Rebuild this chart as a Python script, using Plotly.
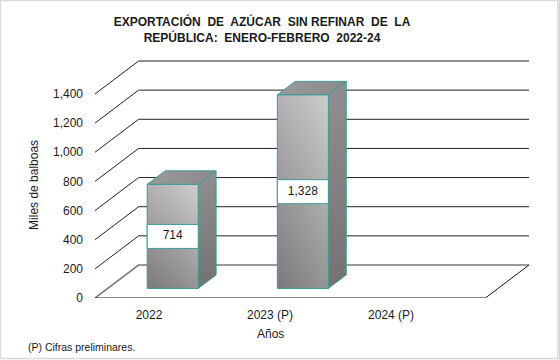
import plotly.graph_objects as go

# ---------------- data ----------------
categories = ["2022", "2023 (P)", "2024 (P)"]
values = [714, 1328, None]
value_labels = ["714", "1,328", ""]
y_tickvals = [0, 200, 400, 600, 800, 1000, 1200, 1400]
y_ticktext = ["0", "200", "400", "600", "800", "1,000", "1,200", "1,400"]

title_text = ("EXPORTACIÓN  DE  AZÚCAR  SIN REFINAR  DE  LA<br>"
              "REPÚBLICA:  ENERO-FEBRERO  2022-24")
y_title = "Miles de balboas"
x_title = "Años"
footnote = "(P) Cifras preliminares."

# ---------------- geometry / style ----------------
W, H = 559, 360
ML, MB, MT = 95, 62, 60
CAT_PX = 130.0                 # pixels per category on the front plane
Y_MAX_TICK = 1400
Y_PX = 204.0                   # pixels for 0..1400 on front plane
UPP = Y_MAX_TICK / Y_PX        # value units per pixel
DX = 0.335                     # depth offset in category units
DY = 33 * UPP                  # depth offset in value units
PLOT_H = H - MB - MT
Y_TOP = PLOT_H * UPP
X_LO = -0.5
X_HI = len(categories) - 0.5 + DX
PLOT_W = (X_HI - X_LO) * CAT_PX
MR = W - ML - PLOT_W

HW = 0.196                     # bar half width (category units)
F0, F1 = 0.29, 0.70            # bar depth range (fraction of depth)
TEAL = "#3a9a9a"
FONT = "Arial, Liberation Sans, sans-serif"
TXT = "#1a1a1a"

fig = go.Figure()

# back wall gridlines: diagonal on the left side + horizontal on the back wall
for v in y_tickvals:
    color = "#7a7a7a" if v == 0 else "#222222"
    width = 1.6 if v == 0 else 1
    fig.add_trace(go.Scatter(
        x=[X_LO, X_LO + DX, X_HI], y=[v, v + DY, v + DY],
        mode="lines", line=dict(color=color, width=width),
        hoverinfo="skip", showlegend=False))

# floor front edge and right diagonal
fig.add_trace(go.Scatter(
    x=[X_LO, len(categories) - 0.5, X_HI], y=[0, 0, DY],
    mode="lines", line=dict(color="#111111", width=1),
    hoverinfo="skip", showlegend=False))

# 3D bars
bdx = (F1 - F0) * DX
bdy = (F1 - F0) * DY
for i, v in enumerate(values):
    if v is None:
        continue
    cx = i + F0 * DX
    y0 = F0 * DY
    y1 = v + F0 * DY
    xl, xr = cx - HW, cx + HW
    # side face
    fig.add_trace(go.Scatter(
        x=[xr, xr + bdx, xr + bdx, xr, xr], y=[y0, y0 + bdy, y1 + bdy, y1, y0],
        fill="toself", mode="lines", line=dict(color=TEAL, width=1),
        fillgradient=dict(type="vertical",
                          colorscale=[[0, "#737373"], [1, "#8f8f8f"]]),
        hoverinfo="skip", showlegend=False))
    # top face
    fig.add_trace(go.Scatter(
        x=[xl, xr, xr + bdx, xl + bdx, xl], y=[y1, y1, y1 + bdy, y1 + bdy, y1],
        fill="toself", mode="lines", line=dict(color=TEAL, width=1),
        fillgradient=dict(type="horizontal",
                          colorscale=[[0, "#9a9a9a"], [1, "#8a8a8a"]]),
        hoverinfo="skip", showlegend=False))
    # front face: vertical gradient
    fig.add_trace(go.Scatter(
        x=[xl, xr, xr, xl, xl], y=[y0, y0, y1, y1, y0],
        fill="toself", mode="lines", line=dict(color="rgba(0,0,0,0)", width=0),
        fillgradient=dict(type="vertical",
                          colorscale=[[0, "#888888"], [1, "#c9c6c6"]]),
        hoverinfo="skip", showlegend=False))
    # front face: horizontal shading overlay (makes the gradient diagonal)
    fig.add_trace(go.Scatter(
        x=[xl, xr, xr, xl, xl], y=[y0, y0, y1, y1, y0],
        fill="toself", mode="lines", line=dict(color=TEAL, width=1),
        fillgradient=dict(type="horizontal",
                          colorscale=[[0, "rgba(0,0,0,0.10)"],
                                      [1, "rgba(255,255,255,0.12)"]]),
        hoverinfo="skip", showlegend=False))
    # value label box
    lc = v / 2 + F0 * DY
    hh = 12 * UPP
    fig.add_trace(go.Scatter(
        x=[xl, xr, xr, xl, xl], y=[lc - hh, lc - hh, lc + hh, lc + hh, lc - hh],
        fill="toself", fillcolor="white", mode="lines",
        line=dict(color=TEAL, width=1),
        hoverinfo="skip", showlegend=False))
    fig.add_trace(go.Scatter(
        x=[cx], y=[lc], mode="text", text=[value_labels[i]],
        textposition="middle center",
        textfont=dict(family=FONT, size=12, color=TXT),
        hoverinfo="skip", showlegend=False))

# category tick positions (Excel places labels slightly left of bar centres)
x_tickvals = [i * 0.93 - 0.085 for i in range(len(categories))]

fig.update_layout(
    width=W, height=H, autosize=False,
    margin=dict(l=ML, r=MR, t=MT, b=MB, pad=0),
    paper_bgcolor="white", plot_bgcolor="white",
    font=dict(family=FONT, size=12, color=TXT),
    title=dict(text=title_text, xref="container", yref="container",
               x=262 / W, y=1 - 26 / H, xanchor="center", yanchor="middle",
               font=dict(family=FONT, size=12, color=TXT, weight="bold")),
    xaxis=dict(range=[X_LO, X_HI], showgrid=False, zeroline=False,
               showline=False, tickvals=x_tickvals, ticktext=categories,
               ticks="", ticklabelstandoff=8,
               tickfont=dict(family=FONT, size=12, color=TXT),
               fixedrange=True),
    yaxis=dict(range=[0, Y_TOP], showgrid=False, zeroline=False,
               showline=False, tickvals=y_tickvals, ticktext=y_ticktext,
               ticks="", ticklabelstandoff=11,
               tickfont=dict(family=FONT, size=12, color=TXT),
               fixedrange=True),
    showlegend=False,
)

pw = PLOT_W
ph = PLOT_H
def px_to_paper_x(px):
    return (px - ML) / pw
def px_to_paper_y(py):
    return (H - MB - py) / ph

fig.add_annotation(text=y_title, textangle=-90, showarrow=False,
                   xref="paper", yref="paper",
                   x=px_to_paper_x(34), y=px_to_paper_y(185),
                   xanchor="center", yanchor="middle",
                   font=dict(family=FONT, size=12, color=TXT))
fig.add_annotation(text=x_title, showarrow=False, xref="paper", yref="paper",
                   x=px_to_paper_x(270), y=px_to_paper_y(334),
                   xanchor="center", yanchor="middle",
                   font=dict(family=FONT, size=12, color=TXT))
fig.add_annotation(text=footnote, showarrow=False, xref="paper", yref="paper",
                   x=px_to_paper_x(26), y=px_to_paper_y(347),
                   xanchor="left", yanchor="middle",
                   font=dict(family=FONT, size=10.5, color=TXT))

# outer chart border
fig.add_shape(type="rect", xref="paper", yref="paper",
              x0=px_to_paper_x(0.5), x1=px_to_paper_x(W - 1.5),
              y0=px_to_paper_y(H - 1.5), y1=px_to_paper_y(0.5),
              line=dict(color="#d9d9d9", width=1.5), layer="above")

fig.write_html(
    "out.html",
    config={"displayModeBar": False},
    post_script="document.body.style.margin='0';document.body.style.overflow='hidden';",
)
